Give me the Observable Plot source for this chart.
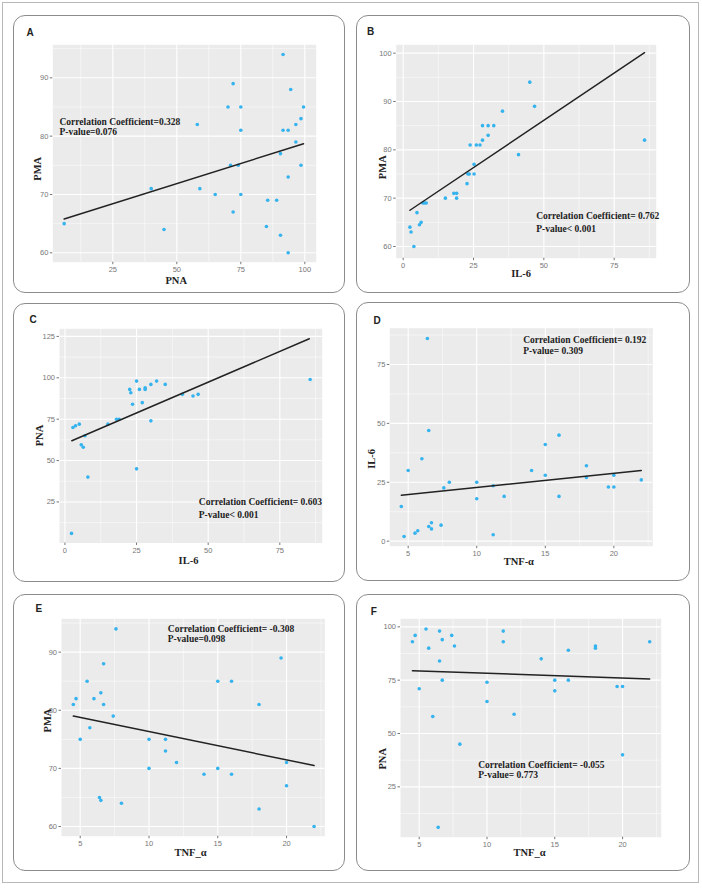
<!DOCTYPE html>
<html><head><meta charset="utf-8">
<script src="https://cdn.jsdelivr.net/npm/d3@7"></script>
<script src="https://cdn.jsdelivr.net/npm/@observablehq/plot@0.6"></script>
<style>
body{margin:0;background:#fff;}
#fig{position:relative;width:702px;height:888px;overflow:hidden;}
.outer{position:absolute;left:2px;top:2px;width:697px;height:881px;border:1px solid #b8b8b8;box-sizing:border-box;}
.box{position:absolute;border:1.3px solid #8c8c8c;border-radius:12px;box-sizing:border-box;}
.wrap{position:absolute;}
.wrap svg{display:block;overflow:visible;}
</style></head><body><div id="fig"><div class="outer"></div></div>
<script>
// ---------- DATA ----------
// Panel A: PNA (x) vs PMA (y)
const aX = [6,40,45,58,59,65,70,72,72,71,74,75,75,75,85,85.5,89,90.5,90.5,91.5,91.5,93.5,93.5,93.5,94.5,96.5,96.5,98.5,98.5,99.5];
const aY = [65,71,64,82,71,70,85,89,67,75,75,81,85,70,64.5,69,69,63,77,94,81,81,73,60,88,82,79,83,75,85];
const aFitX = [6, 99.5];
const aFitY = [65.8, 78.7];
// Panel B: IL-6 (x) vs PMA (y)
const bX = [2.4,2.8,3.8,4.9,5.8,6.4,7,7.6,8.2,15,18,19,19,22.7,23,23.5,23.8,25.2,25.2,26,27.3,28.2,28.2,30.2,30.2,32.2,35.3,41,45,46.7,85.8];
const bY = [64,63,60,67,64.5,65,69,69,69,70,71,71,70,73,75,75,81,77,75,81,81,82,85,83,85,85,88,79,94,89,82];
const bFitX = [2.4, 85.8];
const bFitY = [67.5, 100.1];
// Panel C: IL-6 (x) vs PNA (y)
const cX = [2.3,2.8,3.7,5,5.7,6.4,7,8,15,18,18.9,22.6,23,23.6,25,25,26,27,28,28,30,30,32,35,41,44.7,46.5,85.6];
const cY = [6,70,71,72,59.5,58,65,40,72,75,75,93,91,84,98,45,93,85,93,94,96,74,98,96,90,89,90,99];
const cFitX = [2.4, 85.3];
const cFitY = [62, 123.6];
// Panel D: TNF-α (x) vs IL-6 (y)
const dX = [4.5,4.7,5,5.5,5.7,6,6.4,6.5,6.5,6.7,6.7,7.4,7.6,8,10,10,11.2,11.2,12,14,15,15,16,16,18,18,19.6,20,20,22];
const dY = [14.7,2,30,3.4,4.4,35,86,47,6.2,7.8,5.2,6.8,22.6,25,25,18,23.5,2.7,19,30,41,28,45,19,32,27,23,23,28,26];
const dFitX = [4.5, 22];
const dFitY = [19.5, 30.0];
// Panel E: TNF-α (x) vs PMA (y)
const eX = [4.5,4.7,5,5.5,5.7,6,6.4,6.5,6.5,6.7,6.7,7.4,7.6,8,10,10,11.2,11.2,12,14,15,15,16,16,18,18,19.6,20,20,22];
const eY = [81,82,75,85,77,82,65,64.5,83,88,81,79,94,64,75,70,75,73,71,69,85,70,85,69,81,63,89,71,67,60];
const eFitX = [4.5, 22];
const eFitY = [79.0, 70.5];
// Panel F: TNF-α (x) vs PNA (y)
const fX = [4.5,4.7,5,5.5,5.7,6,6.4,6.5,6.5,6.7,6.7,7.4,7.6,8,10,10,11.2,11.2,12,14,15,15,16,16,18,18,19.6,20,20,22];
const fY = [93,96,71,99,90,58,6,98,84,94,75,96,91,45,74,65,98,93,59,85,75,70,89,75,91,90,72,72,40,93];
const fFitX = [4.5, 22];
const fFitY = [79.4, 75.6];

// Tick labels
const ticksA_x = [25,50,75,100], ticksA_y = [60,70,80,90];
const ticksB_x = [0,25,50,75],   ticksB_y = [60,70,80,90,100];
const ticksC_x = [0,25,50,75],   ticksC_y = [25,50,75,100,125];
const ticksD_x = [5,10,15,20],   ticksD_y = [0,25,50,75];
const ticksE_x = [5,10,15,20],   ticksE_y = [60,70,80,90];
const ticksF_x = [5,10,15,20],   ticksF_y = [25,50,75,100];

// Texts
const letters = ["A","B","C","D","E","F"];
const xTitles = ["PNA","IL-6","IL-6","TNF-α","TNF_α","TNF_α"];
const yTitles = ["PMA","PMA","PNA","IL-6","PMA","PNA"];
const corrLines = ["Correlation Coefficient=0.328","Correlation Coefficient= 0.762","Correlation Coefficient= 0.603","Correlation Coefficient= 0.192","Correlation Coefficient= -0.308","Correlation Coefficient= -0.055"];
const pLines = ["P-value=0.076","P-value< 0.001","P-value< 0.001","P-value= 0.309","P-value=0.098","P-value= 0.773"];

// ---------- LAYOUT ----------
const layout = [
  {box:[13,15,332,278],  panel:[52.3,44.3,315.7,261.7],  xd:[1.56,104.45], yd:[58.39,95.66], xt:ticksA_x, yt:ticksA_y, X:aX, Y:aY, FX:aFitX, FY:aFitY,
   letter:[29.5,32], xtitle:[123.4,18.3], ytitle:[-15.6,124], ann:[6.7,77.4,10]},
  {box:[356,15,334,278], panel:[395.7,44.3,655.7,257.7], xd:[-2.48,89.94], yd:[57.58,101.73], xt:ticksB_x, yt:ticksB_y, X:bX, Y:bY, FX:bFitX, FY:bFitY,
   letter:[370,31.7], xtitle:[125,15.6], ytitle:[-14,122.4], ann:[140,171.4,12.6]},
  {box:[13,303,332,279], panel:[59,328.3,321.7,542.5],   xd:[-1.9,89.8], yd:[0.2,129.6], xt:ticksC_x, yt:ticksC_y, X:cX, Y:cY, FX:cFitX, FY:cFitY,
   letter:[32.7,319], xtitle:[129,18], ytitle:[-19.7,106.7], ann:[139.3,173.4,12.3]},
  {box:[356,302,334,279], panel:[389.3,327.7,652.3,545.7], xd:[3.66,22.84], yd:[-2.14,90.4], xt:ticksD_x, yt:ticksD_y, X:dX, Y:dY, FX:dFitX, FY:dFitY,
   letter:[376.7,320], xtitle:[129,15], ytitle:[-18.6,130.6], ann:[133.4,11.6,10.7]},
  {box:[13,594,332,277], panel:[61,618.3,324.3,835.7],   xd:[3.64,22.78], yd:[58.33,95.74], xt:ticksE_x, yt:ticksE_y, X:eX, Y:eY, FX:eFitX, FY:eFitY,
   letter:[38.3,608.3], xtitle:[129,16], ytitle:[-14.3,101.7], ann:[106.3,10,10]},
  {box:[356,594,334,277], panel:[400,618.3,660.7,836.7], xd:[3.62,22.85], yd:[1.39,103.77], xt:ticksF_x, yt:ticksF_y, X:fX, Y:fY, FX:fFitX, FY:fFitY,
   letter:[373.3,611], xtitle:[129,15], ytitle:[-17.7,140], ann:[77.7,145.7,10.7]}
];

function minorBreaks(ticks, dom) {
  const step = ticks[1] - ticks[0];
  const ext = [ticks[0] - step, ...ticks, ticks[ticks.length - 1] + step];
  const out = [];
  for (let i = 0; i < ext.length - 1; i++) {
    const m = (ext[i] + ext[i + 1]) / 2;
    if (m >= Math.min(...dom) && m <= Math.max(...dom)) out.push(m);
  }
  return out;
}

const fig = document.getElementById("fig");
const SERIF = "'Liberation Serif','Times New Roman',serif";
const SANS = "'Liberation Sans',Arial,sans-serif";

layout.forEach((L, i) => {
  const [bx, by, bw, bh] = L.box;
  const [pl, pt, pr, pb] = L.panel;
  const box = document.createElement("div");
  box.className = "box";
  Object.assign(box.style, {left: bx + "px", top: by + "px", width: bw + "px", height: bh + "px"});
  fig.appendChild(box);

  const pts = L.X.map((x, k) => ({x, y: L.Y[k]}));
  const fit = L.FX.map((x, k) => ({x, y: L.FY[k]}));

  const svg = Plot.plot({
    width: bw, height: bh,
    marginLeft: pl - bx, marginTop: pt - by, marginRight: bx + bw - pr, marginBottom: by + bh - pb,
    x: {domain: L.xd}, y: {domain: L.yd},
    style: {background: "transparent", fontFamily: SANS, fontSize: "7.5px", overflow: "visible"},
    marks: [
      Plot.frame({fill: "#ebebeb", stroke: null}),
      Plot.gridX(minorBreaks(L.xt, L.xd), {stroke: "#fff", strokeOpacity: 1, strokeWidth: 0.5}),
      Plot.gridY(minorBreaks(L.yt, L.yd), {stroke: "#fff", strokeOpacity: 1, strokeWidth: 0.5}),
      Plot.gridX(L.xt, {stroke: "#fff", strokeOpacity: 1, strokeWidth: 1.1}),
      Plot.gridY(L.yt, {stroke: "#fff", strokeOpacity: 1, strokeWidth: 1.1}),
      Plot.axisX(L.xt, {tickSize: 2.5, tickPadding: 2, stroke: "#777", fill: "#777", label: null, tickFormat: d => String(d)}),
      Plot.axisY(L.yt, {tickSize: 2.5, tickPadding: 2, stroke: "#777", fill: "#777", label: null, tickFormat: d => String(d)}),
      Plot.dot(pts, {x: "x", y: "y", r: 1.8, fill: "#35b3ee", stroke: null}),
      Plot.line(fit, {x: "x", y: "y", stroke: "#222", strokeWidth: 1.5}),
      Plot.text([corrLines[i]], {text: d => d, frameAnchor: "top-left", dx: L.ann[0], dy: L.ann[1], textAnchor: "start", lineAnchor: "middle", fontFamily: SERIF, fontWeight: "bold", fontSize: 9.5, fill: "#222"}),
      Plot.text([pLines[i]], {text: d => d, frameAnchor: "top-left", dx: L.ann[0], dy: L.ann[1] + L.ann[2], textAnchor: "start", lineAnchor: "middle", fontFamily: SERIF, fontWeight: "bold", fontSize: 9.5, fill: "#222"}),
      Plot.text([xTitles[i]], {text: d => d, frameAnchor: "bottom-left", dx: L.xtitle[0], dy: L.xtitle[1], textAnchor: "middle", lineAnchor: "middle", fontFamily: SERIF, fontWeight: "bold", fontSize: 10.5, fill: "#222"}),
      Plot.text([yTitles[i]], {text: d => d, frameAnchor: "top-left", dx: L.ytitle[0], dy: L.ytitle[1], rotate: -90, textAnchor: "middle", lineAnchor: "middle", fontFamily: SERIF, fontWeight: "bold", fontSize: 10.5, fill: "#222"}),
      Plot.text([letters[i]], {text: d => d, frameAnchor: "top-left", dx: L.letter[0] - pl, dy: L.letter[1] - pt, textAnchor: "middle", lineAnchor: "middle", fontFamily: SANS, fontWeight: "bold", fontSize: 10, fill: "#222"})
    ]
  });
  const wrap = document.createElement("div");
  wrap.className = "wrap";
  Object.assign(wrap.style, {left: bx + "px", top: by + "px"});
  wrap.appendChild(svg);
  fig.appendChild(wrap);
});
</script>
</body></html>
